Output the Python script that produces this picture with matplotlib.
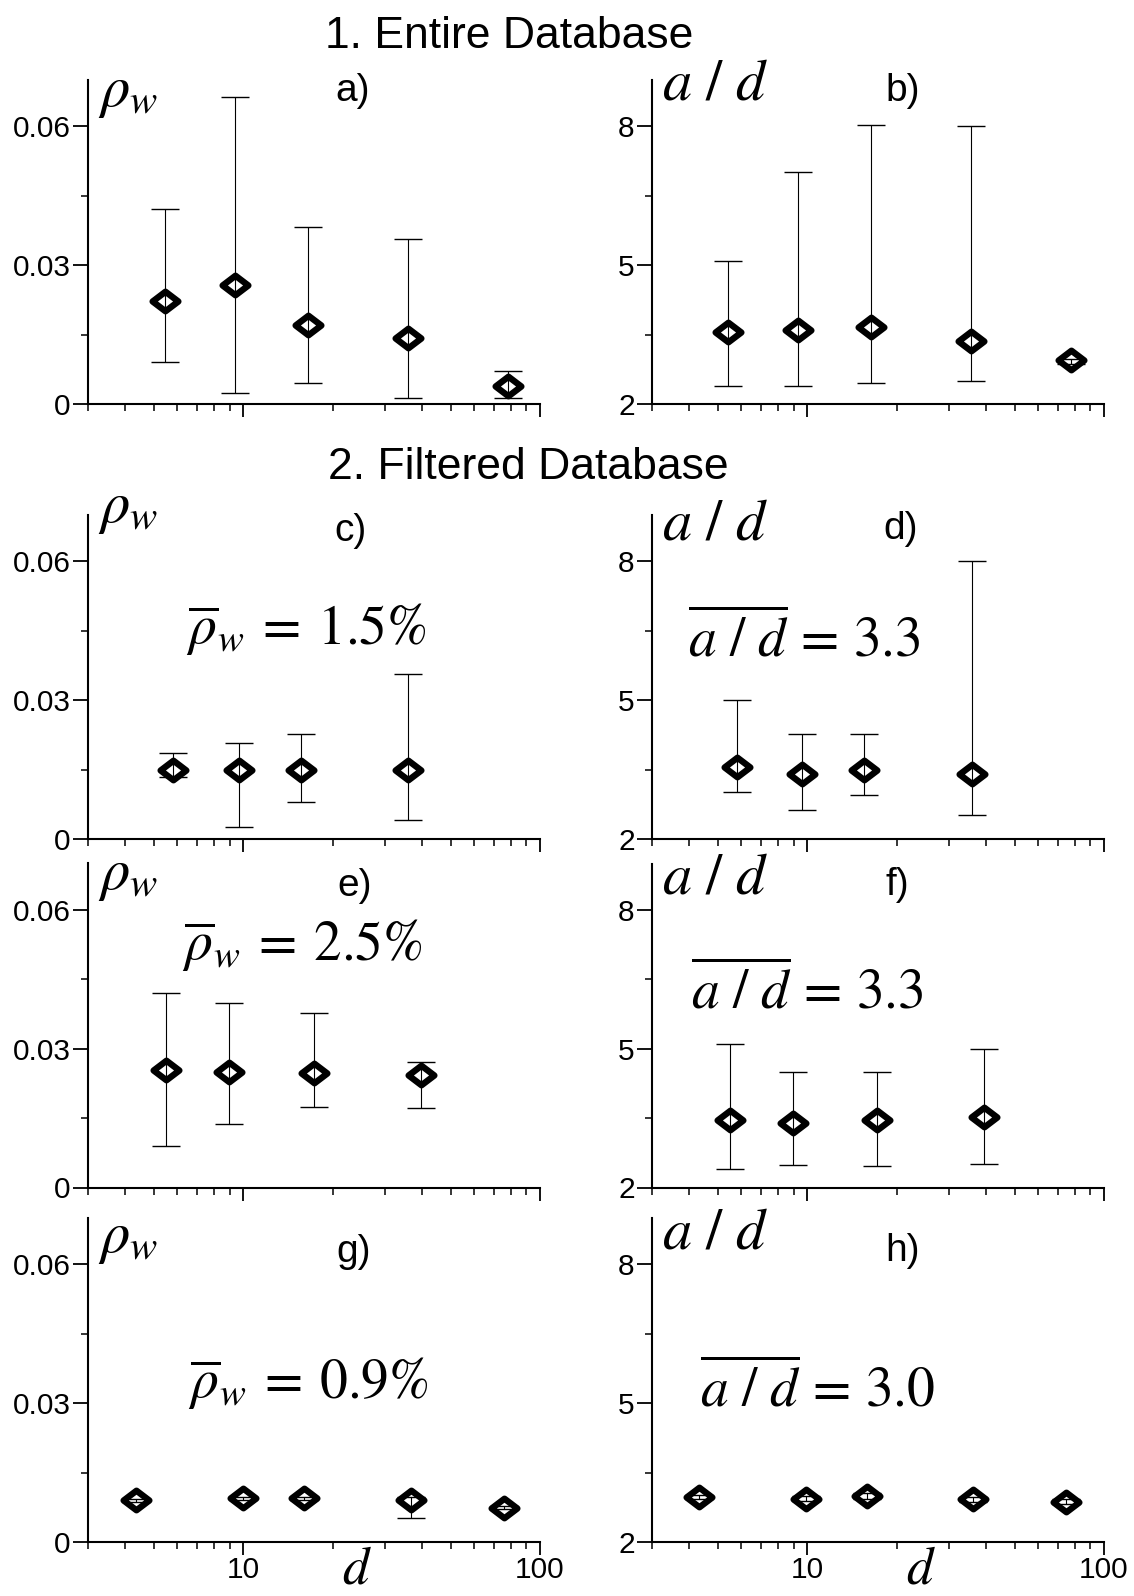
import matplotlib
matplotlib.use("Agg")
import matplotlib.pyplot as plt
from matplotlib.path import Path
from matplotlib.ticker import NullFormatter

plt.rcParams['font.family'] = 'Liberation Sans'
plt.rcParams['mathtext.fontset'] = 'stix'

# ---- data (d on log axis) ----
# 1. entire database
d_a = [5.45, 9.38, 16.5, 35.8, 78.0]
rho_a = [0.0223, 0.0258, 0.0171, 0.0142, 0.0038]
rho_a_hi = [0.0421, 0.0663, 0.0382, 0.0356, 0.0072]
rho_a_lo = [0.0090, 0.0024, 0.0045, 0.0012, 0.0012]

d_b = [5.43, 9.3, 16.4, 35.6, 77.3]
ad_b = [3.56, 3.59, 3.67, 3.36, 2.95]
ad_b_hi = [5.08, 7.02, 8.02, 8.0, 2.98]
ad_b_lo = [2.39, 2.39, 2.45, 2.49, 2.86]

# 2. filtered database
d_c = [5.81, 9.67, 15.6, 35.8]
rho_c = [0.0149, 0.0149, 0.0149, 0.0149]
rho_c_hi = [0.0185, 0.0207, 0.0226, 0.0356]
rho_c_lo = [0.0135, 0.0025, 0.0081, 0.0042]

d_d = [5.81, 9.58, 15.5, 35.9]
ad_d = [3.56, 3.40, 3.48, 3.40]
ad_d_hi = [5.0, 4.27, 4.27, 8.0]
ad_d_lo = [3.01, 2.62, 2.94, 2.52]

d_e = [5.49, 8.97, 17.3, 39.8]
rho_e = [0.0254, 0.0250, 0.0247, 0.0243]
rho_e_hi = [0.0421, 0.0398, 0.0376, 0.0272]
rho_e_lo = [0.0090, 0.0137, 0.0173, 0.0171]

d_f = [5.48, 8.96, 17.2, 39.3]
ad_f = [3.45, 3.40, 3.46, 3.53]
ad_f_hi = [5.10, 4.49, 4.49, 5.0]
ad_f_lo = [2.41, 2.48, 2.47, 2.50]

d_g = [4.35, 10.0, 15.97, 36.9, 75.6]
rho_g = [0.0090, 0.0094, 0.0094, 0.0090, 0.0074]
rho_g_hi = [0.0093, 0.0097, 0.0098, 0.0097, 0.0077]
rho_g_lo = [0.0087, 0.0091, 0.0090, 0.0051, 0.0071]

d_h = [4.33, 9.9, 15.85, 36.1, 74.2]
ad_h = [2.97, 2.93, 2.99, 2.92, 2.87]
ad_h_hi = [3.02, 2.99, 3.05, 2.97, 2.92]
ad_h_lo = [2.92, 2.88, 2.93, 2.87, 2.83]

rho_means = ['1.5', '2.5', '0.9']
ad_means = ['3.3', '3.3', '3.0']

# ---- layout (pixels of the 1134x1596 figure) ----
W, H = 1134, 1596
row_bottom = [404, 839, 1187.5, 1542]
col_left = [88, 652]
ax_w, ax_h = 452, 324

diamond = Path([(-1, 0), (0, 0.76), (1, 0), (0, -0.76), (-1, 0)],
               [Path.MOVETO, Path.LINETO, Path.LINETO, Path.LINETO, Path.CLOSEPOLY])

fig = plt.figure(figsize=(W / 100, H / 100), dpi=100)

fig.text(509 / W, 1 - 36 / H, '1. Entire Database', ha='center', va='center', fontsize=32)
fig.text(528 / W, 1 - 468 / H, '2. Filtered Database', ha='center', va='center', fontsize=32)

rho_note = r'$\overline{\rho}_w\:=\:%s\%%$'
ad_note = r'$\overline{a\ /\ d}\,=\,%s$'

# (row, col, x, y, lo, hi, letter, letter_pos, ylabel_y, note, note_pos)
panels = [
    (0, 0, d_a, rho_a, rho_a_lo, rho_a_hi, 'a)', (0.585, 0.966), 0.96, None, None),
    (0, 1, d_b, ad_b, ad_b_lo, ad_b_hi, 'b)', (0.555, 0.966), 0.985, None, None),
    (1, 0, d_c, rho_c, rho_c_lo, rho_c_hi, 'c)', (0.581, 0.95), 1.02,
     rho_note % rho_means[0], (0.216, 0.60)),
    (1, 1, d_d, ad_d, ad_d_lo, ad_d_hi, 'd)', (0.551, 0.957), 0.97,
     ad_note % ad_means[0], (0.079, 0.562)),
    (2, 0, d_e, rho_e, rho_e_lo, rho_e_hi, 'e)', (0.589, 0.932), 0.96,
     rho_note % rho_means[1], (0.208, 0.70)),
    (2, 1, d_f, ad_f, ad_f_lo, ad_f_hi, 'f)', (0.543, 0.935), 0.955,
     ad_note % ad_means[1], (0.086, 0.554)),
    (3, 0, d_g, rho_g, rho_g_lo, rho_g_hi, 'g)', (0.588, 0.895), 0.935,
     rho_note % rho_means[2], (0.221, 0.444)),
    (3, 1, d_h, ad_h, ad_h_lo, ad_h_hi, 'h)', (0.555, 0.898), 0.952,
     ad_note % ad_means[2], (0.106, 0.418)),
]

for row, col, x, y, lo, hi, letter, lpos, yl_y, note, npos in panels:
    ax = fig.add_axes([col_left[col] / W, 1 - row_bottom[row] / H, ax_w / W, ax_h / H])
    ax.set_xscale('log')
    ax.set_xlim(3, 100)
    ax.set_xticks([10, 100])
    ax.set_xticks([3, 4, 5, 6, 7, 8, 9, 20, 30, 40, 50, 60, 70, 80, 90], minor=True)
    ax.xaxis.set_minor_formatter(NullFormatter())
    if col == 0:
        ax.set_ylim(0, 0.07)
        ax.set_yticks([0, 0.03, 0.06])
        ax.set_yticklabels(['0', '0.03', '0.06'])
        ax.set_yticks([0.015, 0.045], minor=True)
        ylab = r'$\rho_w$'
    else:
        ax.set_ylim(2, 9)
        ax.set_yticks([2, 5, 8])
        ax.set_yticklabels(['2', '5', '8'])
        ax.set_yticks([3.5, 6.5], minor=True)
        ylab = r'$a\ /\ d$'
    if row == 3:
        ax.set_xticklabels(['10', '100'])
        ax.text(0.595, -0.128, r'$d$', transform=ax.transAxes, ha='center',
                va='baseline', fontsize=38)
    else:
        ax.tick_params(axis='x', labelbottom=False)

    for s in ['top', 'right']:
        ax.spines[s].set_visible(False)
    for s in ['left', 'bottom']:
        ax.spines[s].set_linewidth(1.5)
    ax.tick_params(axis='y', which='major', length=11, width=1.3, labelsize=21.5, pad=1.5)
    ax.tick_params(axis='x', which='major', length=9, width=1.3, labelsize=21.5, pad=1)
    ax.tick_params(which='minor', length=5, width=1.1)

    yerr = [[yv - lv for yv, lv in zip(y, lo)], [hv - yv for yv, hv in zip(y, hi)]]
    ax.plot(x, y, linestyle='none', marker=diamond, ms=18.5, mfc='white',
            mec='black', mew=4.6, zorder=2, clip_on=False)
    ax.errorbar(x, y, yerr=yerr, fmt='none', ecolor='black', elinewidth=0.8,
                capsize=10, capthick=1.0, zorder=3, clip_on=False)

    ax.text(lpos[0], lpos[1], letter, transform=ax.transAxes, ha='center',
            va='center', fontsize=28)
    ax.text(0.022, yl_y, ylab, transform=ax.transAxes, ha='left', va='center',
            fontsize=42)
    if note:
        ax.text(npos[0], npos[1], note, transform=ax.transAxes, ha='left',
                va='baseline', fontsize=40)

fig.savefig('out.png', dpi=100)
